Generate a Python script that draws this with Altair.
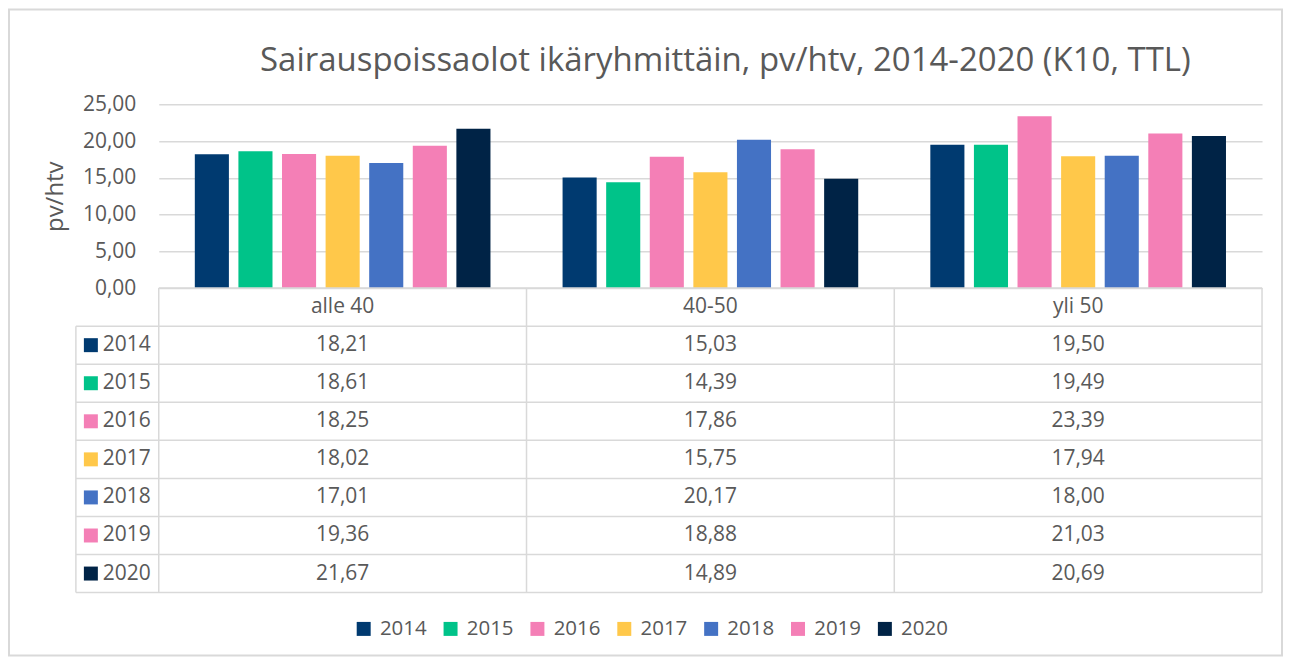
import altair as alt
import pandas as pd

# ---- data ----
categories = ["alle 40", "40-50", "yli 50"]
years = ["2014", "2015", "2016", "2017", "2018", "2019", "2020"]
v2014 = [18.21, 15.03, 19.50]
v2015 = [18.61, 14.39, 19.49]
v2016 = [18.25, 17.86, 23.39]
v2017 = [18.02, 15.75, 17.94]
v2018 = [17.01, 20.17, 18.00]
v2019 = [19.36, 18.88, 21.03]
v2020 = [21.67, 14.89, 20.69]
colors = ["#003A70", "#00C389", "#F47FB6", "#FFC84A", "#4472C4", "#F47FB6", "#002346"]
y_ticks = [0, 5, 10, 15, 20, 25]
title_text = "Sairauspoissaolot ikäryhmittäin, pv/htv, 2014-2020 (K10, TTL)"
y_title = "pv/htv"

series = [v2014, v2015, v2016, v2017, v2018, v2019, v2020]

FONT = "Open Sans"
GREY = "#595959"
LINE = "#d9d9d9"

PW = 1105          # plot width
PH = 184           # bar plot height
TH = 305           # table height (header + 7 rows)
UNIT = PW / 3.0    # px per category column
LEFT = -83 / UNIT  # left edge of the year column (in column units)

rows = []
for yi, y in enumerate(years):
    for ci, c in enumerate(categories):
        rows.append({"ikäryhmä": c, "vuosi": y, "arvo": series[yi][ci]})
df = pd.DataFrame(rows)

color_scale = alt.Scale(domain=years, range=colors)

bars = alt.Chart(df).mark_bar().encode(
    x=alt.X("ikäryhmä:N", sort=categories,
            scale=alt.Scale(paddingInner=0, paddingOuter=0), axis=None),
    xOffset=alt.XOffset("vuosi:N", sort=years,
                        scale=alt.Scale(paddingInner=0.218, paddingOuter=0.827)),
    y=alt.Y("arvo:Q", scale=alt.Scale(domain=[0, 25], nice=False),
            axis=alt.Axis(values=y_ticks, title=y_title,
                          labelExpr="replace(format(datum.value, '.2f'), '.', ',')",
                          domain=False, ticks=False, grid=True, gridColor=LINE,
                          gridWidth=1.5,
                          labelFont=FONT, labelFontSize=21, labelColor=GREY,
                          labelPadding=23,
                          titleFont=FONT, titleFontSize=24, titleColor=GREY,
                          titleFontWeight="normal", titlePadding=15)),
    color=alt.Color("vuosi:N", sort=years, scale=color_scale, legend=None),
).properties(
    width=PW, height=PH,
    title=alt.TitleParams(title_text, font=FONT, fontSize=33, color=GREY,
                          fontWeight="normal", anchor="middle", offset=15, dx=15),
)

# ---- data table below the bars ----
cells = []
for ci, c in enumerate(categories):
    cells.append({"x": ci + 0.5, "r": 0.5, "t": c})
for yi, y in enumerate(years):
    for ci, c in enumerate(categories):
        txt = f"{series[yi][ci]:.2f}".replace(".", ",")
        cells.append({"x": ci + 0.5, "r": yi + 1.5, "t": txt})
cells_df = pd.DataFrame(cells)

hl = []
for r in range(0, len(years) + 2):
    hl.append({"x": 0 if r == 0 else LEFT, "x2": 3, "r": r})
hl_df = pd.DataFrame(hl)

vl = [{"x": c, "r": 0, "r2": len(years) + 1} for c in range(0, 4)]
vl.append({"x": LEFT, "r": 1, "r2": len(years) + 1})
vl_df = pd.DataFrame(vl)

yl = pd.DataFrame({"vuosi": years,
                   "r": [i + 1.5 for i in range(len(years))],
                   "xs": [LEFT + 15 / UNIT] * len(years),
                   "xt": [LEFT + 27 / UNIT] * len(years)})

xs = alt.Scale(domain=[0, 3], nice=False, zero=False)
ys = alt.Scale(domain=[0, len(years) + 1], reverse=True, nice=False, zero=False)

h_rules = alt.Chart(hl_df).mark_rule(color=LINE, strokeWidth=1.5).encode(
    x=alt.X("x:Q", scale=xs, axis=None), x2="x2:Q",
    y=alt.Y("r:Q", scale=ys, axis=None))
v_rules = alt.Chart(vl_df).mark_rule(color=LINE, strokeWidth=1.5).encode(
    x=alt.X("x:Q", scale=xs, axis=None),
    y=alt.Y("r:Q", scale=ys, axis=None), y2="r2:Q")
texts = alt.Chart(cells_df).mark_text(font=FONT, fontSize=21, color=GREY,
                                      align="center", baseline="middle").encode(
    x=alt.X("x:Q", scale=xs, axis=None),
    y=alt.Y("r:Q", scale=ys, axis=None), text="t:N")
year_txt = alt.Chart(yl).mark_text(font=FONT, fontSize=21, color=GREY,
                                   align="left", baseline="middle").encode(
    x=alt.X("xt:Q", scale=xs, axis=None),
    y=alt.Y("r:Q", scale=ys, axis=None), text="vuosi:N")
squares = alt.Chart(yl).mark_square(size=196, opacity=1).encode(
    x=alt.X("xs:Q", scale=xs, axis=None),
    y=alt.Y("r:Q", scale=ys, axis=None),
    color=alt.Color("vuosi:N", sort=years, scale=color_scale,
                    legend=alt.Legend(orient="none", legendX=195, legendY=331,
                                      direction="horizontal", title=None,
                                      symbolType="square", symbolSize=196,
                                      symbolStrokeWidth=0, symbolOpacity=1,
                                      labelFont=FONT, labelFontSize=20.5,
                                      labelColor=GREY, labelOffset=6,
                                      columnPadding=13)))
border = alt.Chart(pd.DataFrame({"a": [0]})).mark_rect(
    fill=None, stroke=LINE, strokeWidth=2).encode(
    x=alt.value(-150), x2=alt.value(1125), y=alt.value(-279), y2=alt.value(368))

table = alt.layer(border, h_rules, v_rules, texts, year_txt, squares).properties(
    width=PW, height=TH)

chart = alt.vconcat(bars, table, spacing=0, bounds="flush").resolve_scale(
    color="independent").properties(padding=0).configure_view(stroke=None)

chart.save("out.html", embed_options={"renderer": "svg", "actions": False})
